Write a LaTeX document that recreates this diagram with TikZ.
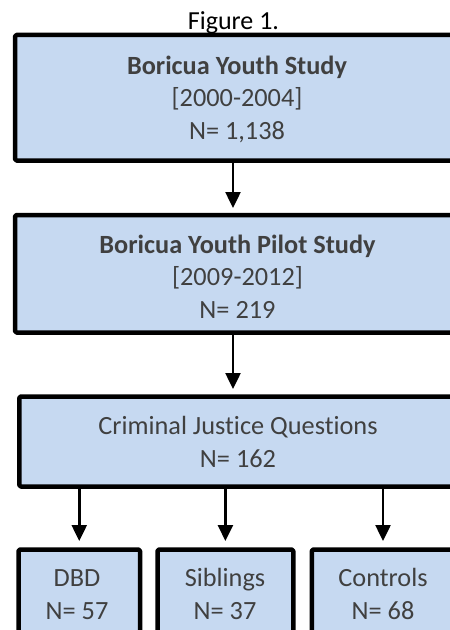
\documentclass[tikz,border=0pt]{standalone}
\usepackage{fontspec}
\setmainfont{Carlito}[Ligatures={NoCommon}]
\usetikzlibrary{arrows.meta}
\definecolor{boxfill}{HTML}{C6D9F1}
\definecolor{txtgray}{HTML}{404040}
\begin{document}
\begin{tikzpicture}[x=1bp,y=-1bp,
  box/.style={draw=black, fill=boxfill, line width=4.5bp, line join=round,
    rounded corners=1.5bp, anchor=north west, inner sep=0pt, outer sep=0pt},
  lbl/.style={text=txtgray, font=\fontsize{26.3bp}{32.5bp}\selectfont,
    align=center, anchor=base, inner sep=0pt},
  arr/.style={-{Triangle[width=15bp,length=16bp]}, line width=2.5bp}]
\useasboundingbox (0,0) rectangle (450,630);
\clip (0,0) rectangle (450,630);
% title
\node[anchor=base, inner sep=0pt, font=\fontsize{26bp}{32.5bp}\selectfont] (title) at (233.5,29.5) {Figure 1.};
% boxes
\node[box, minimum width=455bp, minimum height=125.5bp] (b1) at (15,35) {};
\node[box, minimum width=455bp, minimum height=117.5bp] (b2) at (15,215) {};
\node[box, minimum width=451bp, minimum height=90bp] (b3) at (19.3,396.5) {};
\node[box, minimum width=121.5bp, minimum height=100bp] (bA) at (18.5,549.5) {};
\node[box, minimum width=135.8bp, minimum height=100bp] (bB) at (157.5,549.5) {};
\node[box, minimum width=142.4bp, minimum height=100bp] (bC) at (311.8,549.5) {};
% texts (anchor base = baseline of last line)
\node[lbl] (t1) at (237,139.3) {\textbf{Boricua Youth Study}\\\relax [2000-2004]\\N= 1,138};
\node[lbl] (t2) at (237.5,318) {\textbf{Boricua Youth Pilot Study}\\\relax [2009-2012]\\N= 219};
\node[lbl] (t3) at (238,467) {Criminal Justice Questions\\N= 162};
\node[lbl] (tA) at (77,619) {DBD\\N= 57};
\node[lbl] (tB) at (225,619) {Siblings\\N= 37};
\node[lbl] (tC) at (383,619) {Controls\\N= 68};
% arrows
\draw[arr, shorten >=7bp] (233,0 |- b1.south) -- (233,0 |- b2.north);
\draw[arr, shorten >=7.5bp] (233,0 |- b2.south) -- (233,0 |- b3.north);
\draw[arr, shorten >=8.5bp] (bA.north |- b3.south) -- (bA.north);
\draw[arr, shorten >=8.5bp] (bB.north |- b3.south) -- (bB.north);
\draw[arr, shorten >=8.5bp] (bC.north |- b3.south) -- (bC.north);
\end{tikzpicture}
\end{document}
